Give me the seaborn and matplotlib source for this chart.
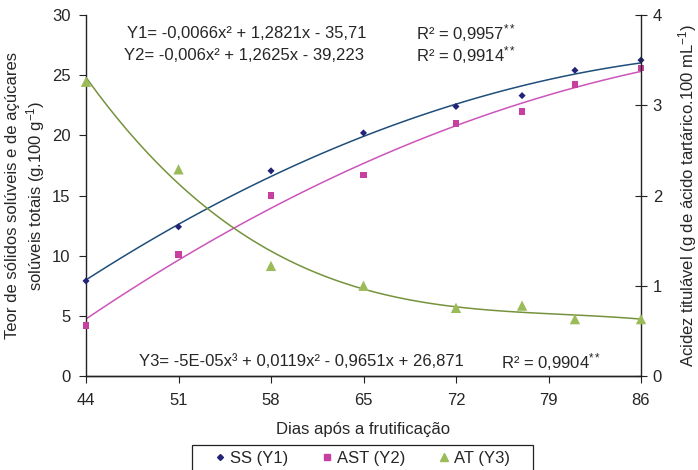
import numpy as np
import pandas as pd
import seaborn as sns
import matplotlib
matplotlib.use("Agg")
import matplotlib.pyplot as plt
from matplotlib.lines import Line2D
from matplotlib.patches import Rectangle

# ------------------------------------------------------------
# Data
# ------------------------------------------------------------
dias = [44, 51, 58, 65, 72, 77, 81, 86]
ss = [7.9, 12.4, 17.05, 20.2, 22.4, 23.3, 25.4, 26.25]
ast = [4.2, 10.1, 15.0, 16.7, 20.95, 22.0, 24.2, 25.6]
at = [3.26, 2.29, 1.22, 1.00, 0.755, 0.78, 0.63, 0.63]

x_ticks = [44, 51, 58, 65, 72, 79, 86]
eq1 = "Y1= -0,0066x² + 1,2821x - 35,71"
eq2 = "Y2= -0,006x² + 1,2625x - 39,223"
eq3 = "Y3= -5E-05x³ + 0,0119x² - 0,9651x + 26,871"
r1 = "R² = 0,9957$^{**}$"
r2 = "R² = 0,9914$^{**}$"
r3 = "R² = 0,9904$^{**}$"

df = pd.DataFrame({"dias": dias, "ss": ss, "ast": ast, "at": at})

sns.set_style("ticks")
plt.rcParams["font.family"] = ["Liberation Sans", "DejaVu Sans"]
plt.rcParams["mathtext.fontset"] = "custom"
plt.rcParams["mathtext.rm"] = "Liberation Sans"
plt.rcParams["mathtext.it"] = "Liberation Sans"

FS = 12
c_ss_m, c_ss_l = "#23237a", "#1f4e79"
c_ast_m, c_ast_l = "#c8409f", "#cc55bb"
c_at_m, c_at_l = "#9bbb59", "#76923c"
c_ax = "#222222"

fig = plt.figure(figsize=(6.98, 4.70), dpi=100)
ax = fig.add_axes([86 / 698, 1 - 376 / 470, (641 - 86) / 698, (376 - 15) / 470])
ax2 = ax.twinx()

# ------------------------------------------------------------
# Trend lines (polynomial fits) + points
# ------------------------------------------------------------
sns.regplot(data=df, x="dias", y="ss", order=2, ci=None, scatter=False, ax=ax,
            line_kws={"color": c_ss_l, "lw": 1.1})
sns.regplot(data=df, x="dias", y="ast", order=2, ci=None, scatter=False, ax=ax,
            line_kws={"color": c_ast_l, "lw": 1.1})
sns.regplot(data=df, x="dias", y="at", order=3, ci=None, scatter=False, ax=ax2,
            line_kws={"color": c_at_l, "lw": 1.1})

sns.scatterplot(data=df, x="dias", y="ss", marker="D", s=13, color=c_ss_m,
                edgecolor="none", ax=ax, zorder=3, clip_on=False)
sns.scatterplot(data=df, x="dias", y="ast", marker="s", s=24, color=c_ast_m,
                edgecolor="none", ax=ax, zorder=3, clip_on=False)
sns.scatterplot(data=df, x="dias", y="at", marker="^", s=55, color=c_at_m,
                edgecolor="none", ax=ax2, zorder=3, clip_on=False)

# ------------------------------------------------------------
# Axes
# ------------------------------------------------------------
ax.set_xlim(44, 86)
ax.set_ylim(0, 30)
ax2.set_ylim(0, 4)
ax.set_xticks(x_ticks)
ax.set_yticks(range(0, 31, 5))
ax2.set_yticks(range(0, 5))

for a in (ax, ax2):
    a.spines["top"].set_visible(False)
    for s in a.spines.values():
        s.set_color(c_ax)
        s.set_linewidth(1.0)
ax.spines["right"].set_visible(False)
ax2.spines["left"].set_visible(False)

ax.tick_params(axis="x", labelsize=FS, length=5, width=0.8, color=c_ax, pad=7)
ax.tick_params(axis="y", labelsize=FS, length=5, width=0.8, color=c_ax, pad=6)
ax2.tick_params(axis="y", labelsize=FS, length=9, width=0.8, direction="inout",
                color=c_ax, pad=4)

ax.set_xlabel("Dias após a frutificação", fontsize=FS, labelpad=10)
ax.set_ylabel("Teor de sólidos solúveis e de açúcares\nsolúveis totais (g.100 g$^{-1}$)",
              fontsize=FS, labelpad=4)
ax2.set_ylabel("Acidez titulável (g de ácido tartárico.100 mL$^{-1}$)",
               fontsize=FS, labelpad=10)

# ------------------------------------------------------------
# Equations
# ------------------------------------------------------------
ax.text(47.1, 28.5, eq1, fontsize=FS, va="center")
ax.text(69.0, 28.5, r1, fontsize=FS, va="center")
ax.text(46.9, 26.65, eq2, fontsize=FS, va="center")
ax.text(69.0, 26.65, r2, fontsize=FS, va="center")
ax.text(48.0, 1.2, eq3, fontsize=FS, va="center")
ax.text(75.4, 1.2, r3, fontsize=FS, va="center")

# ------------------------------------------------------------
# Legend (frame drawn as a box in figure coords)
# ------------------------------------------------------------
handles = [
    Line2D([], [], ls="none", marker="D", ms=3, color=c_ss_m, label="SS (Y1)"),
    Line2D([], [], ls="none", marker="s", ms=4.5, color=c_ast_m, label="AST (Y2)"),
    Line2D([], [], ls="none", marker="^", ms=6, color=c_at_m, label="AT (Y3)"),
]
fig.legend(handles=handles, loc="center", ncol=3,
           bbox_to_anchor=(362.5 / 698, 1 - 458 / 470), fontsize=FS, frameon=False,
           handlelength=0.6, handletextpad=0.3, columnspacing=2.0)
fig.patches.append(Rectangle((192 / 698, -0.01), (533 - 192) / 698, (470 - 445) / 470 + 0.01,
                             transform=fig.transFigure, fill=False, ec=c_ax, lw=0.9))

fig.savefig("out.png", dpi=100)
